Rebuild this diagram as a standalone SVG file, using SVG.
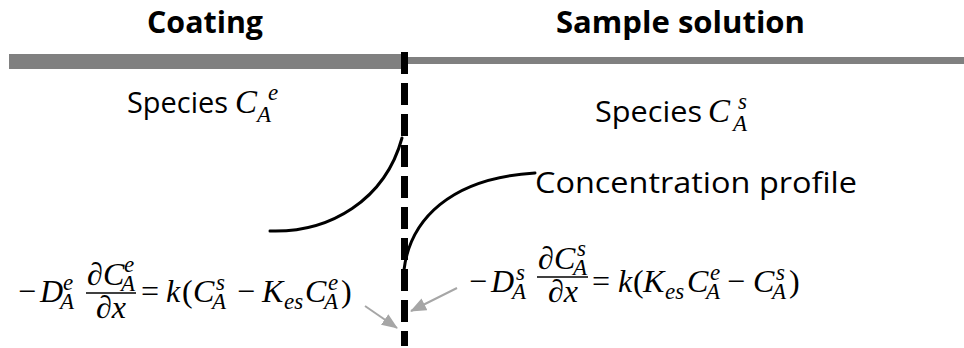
<svg xmlns="http://www.w3.org/2000/svg" width="964" height="348" viewBox="0 0 964 348">
<defs>
<style>
.hd{font-family:"Open Sans","Liberation Sans",sans-serif;font-weight:bold;font-size:31px;fill:#000}
.lb{font-family:"Open Sans","Liberation Sans",sans-serif;font-size:30px;fill:#000}
.m{font-family:"Liberation Serif","DejaVu Serif",serif;font-size:32px;font-style:italic;fill:#000}
.big{font-size:33px}
.u{font-style:normal}
.s{font-size:23px}
.curve{fill:none;stroke:#000;stroke-width:3;stroke-linecap:round}
.arr{fill:none;stroke:#a6a6a6;stroke-width:2;marker-end:url(#ah)}
.bar{stroke:#000;stroke-width:1.5}
</style>
<marker id="ah" viewBox="0 0 16 13" refX="15" refY="6.5" markerWidth="16" markerHeight="13" markerUnits="userSpaceOnUse" orient="auto">
<path d="M0,0 L16,6.5 L0,13 z" fill="#a6a6a6"/>
</marker>
</defs>
<rect width="964" height="348" fill="#fff"/>

<g id="coating-title"><text class="hd" x="147" y="33" textLength="116" lengthAdjust="spacingAndGlyphs">Coating</text></g>
<g id="solution-title"><text class="hd" x="556" y="33" textLength="249" lengthAdjust="spacingAndGlyphs">Sample solution</text></g>

<g id="surface">
<rect x="9" y="54" width="393" height="15" fill="#808080"/>
<rect x="407" y="57" width="557" height="7" fill="#808080"/>
</g>

<g id="interface">
<line x1="404.5" y1="52" x2="404.5" y2="346" stroke="#000" stroke-width="7" stroke-dasharray="22 9"/>
</g>

<g id="species-coating">
<text class="lb" x="127" y="113" textLength="101" lengthAdjust="spacingAndGlyphs">Species</text>
<text class="m big" x="235" y="113">C<tspan class="s" x="268" y="100">e</tspan><tspan class="s" x="257" y="122">A</tspan></text>
</g>

<g id="species-solution">
<text class="lb" x="595" y="122" textLength="107" lengthAdjust="spacingAndGlyphs">Species</text>
<text class="m big" x="708" y="122">C<tspan class="s" x="738" y="109">s</tspan><tspan class="s" x="733" y="131">A</tspan></text>
</g>

<g id="profile-coating"><path class="curve" d="M270,231 C330,233 385,200 402,138"/></g>
<g id="profile-solution"><path class="curve" d="M404,270 C410,220 450,178 535,173"/></g>
<g id="profile-label"><text class="lb" x="535" y="193" textLength="322" lengthAdjust="spacingAndGlyphs">Concentration profile</text></g>

<g id="eq-coating">
<text class="m"><tspan class="u" x="18" y="302">−</tspan><tspan x="40" y="302">D</tspan><tspan class="s" x="63" y="290">e</tspan><tspan class="s" x="60" y="309">A</tspan><tspan x="87" y="285">∂</tspan><tspan x="103" y="285">C</tspan><tspan class="s" x="124" y="272">e</tspan><tspan class="s" x="121" y="291">A</tspan><tspan x="96" y="318">∂x</tspan><tspan class="u" x="141" y="302">=</tspan><tspan x="166" y="302">k</tspan><tspan class="u" x="182" y="302">(</tspan><tspan x="193" y="302">C</tspan><tspan class="s" x="216" y="290">s</tspan><tspan class="s" x="212" y="309">A</tspan><tspan class="u" x="237" y="302">−</tspan><tspan x="262" y="302">K</tspan><tspan class="s" x="284" y="309">es</tspan><tspan x="305" y="302">C</tspan><tspan class="s" x="328" y="290">e</tspan><tspan class="s" x="324" y="309">A</tspan><tspan class="u" x="341" y="302">)</tspan></text>
<line class="bar" x1="86" y1="293" x2="136" y2="293"/>
</g>

<g id="eq-solution">
<text class="m"><tspan class="u" x="469" y="292">−</tspan><tspan x="491" y="292">D</tspan><tspan class="s" x="516" y="280">s</tspan><tspan class="s" x="512" y="299">A</tspan><tspan x="538" y="269">∂</tspan><tspan x="554" y="269">C</tspan><tspan class="s" x="577" y="256">s</tspan><tspan class="s" x="573" y="275">A</tspan><tspan x="548" y="302">∂x</tspan><tspan class="u" x="592" y="292">=</tspan><tspan x="618" y="292">k</tspan><tspan class="u" x="633" y="292">(</tspan><tspan x="643" y="292">K</tspan><tspan class="s" x="665" y="299">es</tspan><tspan x="687" y="292">C</tspan><tspan class="s" x="710" y="280">e</tspan><tspan class="s" x="706" y="299">A</tspan><tspan class="u" x="727" y="292">−</tspan><tspan x="753" y="292">C</tspan><tspan class="s" x="776" y="280">s</tspan><tspan class="s" x="772" y="299">A</tspan><tspan class="u" x="789" y="292">)</tspan></text>
<line class="bar" x1="537" y1="277" x2="588" y2="277"/>
</g>

<g id="connectors">
<line class="arr" x1="365" y1="306" x2="397" y2="328"/>
<line class="arr" x1="457" y1="288" x2="411" y2="311"/>
</g>
</svg>
